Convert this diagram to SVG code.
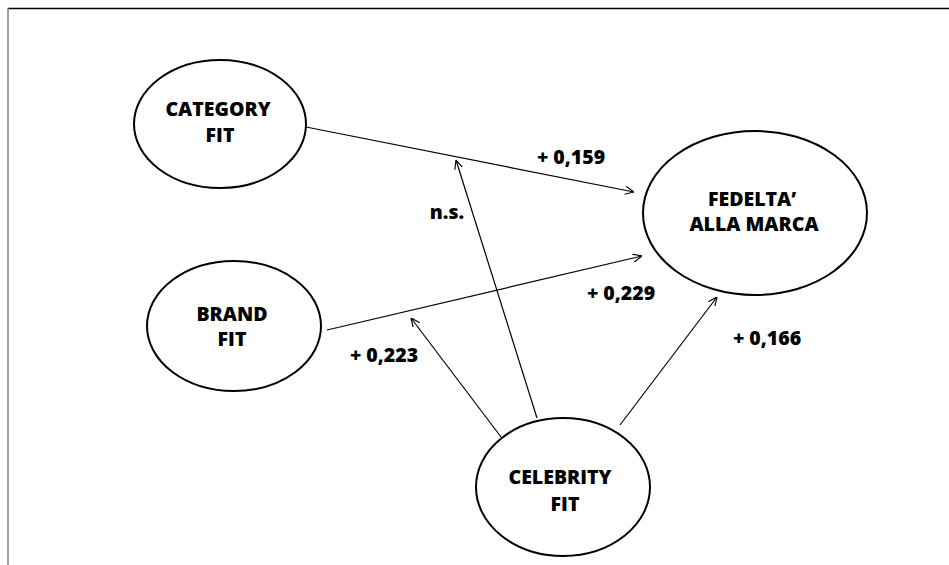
<svg xmlns="http://www.w3.org/2000/svg" width="949" height="565" viewBox="0 0 949 565">
<style>
.node ellipse{fill:#fff;stroke:#000;stroke-width:2}
text{font-family:"Open Sans","Liberation Sans",sans-serif;font-weight:800;font-size:19.5px;fill:#000;text-anchor:middle}
.conn line{stroke:#000;stroke-width:1.2;marker-end:url(#arr)}
</style>
<defs>
<marker id="arr" viewBox="0 0 10 10" refX="10" refY="5" markerWidth="9" markerHeight="9" markerUnits="userSpaceOnUse" orient="auto">
<path d="M0,0.5 L10,5 L0,9.5" fill="none" stroke="#000" stroke-width="1.3"/>
</marker>
</defs>
<rect width="949" height="565" fill="#fff"/>
<line x1="8" y1="8.5" x2="949" y2="8.5" stroke="#000" stroke-width="1.5"/>
<line x1="8" y1="8" x2="8" y2="565" stroke="#808080" stroke-width="1.5"/>
<g id="connectors" class="conn">
<line x1="306" y1="127" x2="634" y2="192"/>
<line x1="327" y1="330" x2="642" y2="256"/>
<line x1="537" y1="418" x2="456" y2="160"/>
<line x1="501" y1="437" x2="411" y2="318"/>
<line x1="620" y1="425" x2="717" y2="297"/>
</g>
<g id="category" class="node">
<ellipse cx="220" cy="124" rx="86" ry="64"/>
<text x="218" y="116">CATEGORY</text>
<text x="220" y="142">FIT</text>
</g>
<g id="brand" class="node">
<ellipse cx="234" cy="326" rx="87" ry="65"/>
<text x="232" y="321">BRAND</text>
<text x="232" y="346">FIT</text>
</g>
<g id="fedelta" class="node">
<ellipse cx="755" cy="213" rx="112" ry="82"/>
<text x="752" y="206">FEDELTA’</text>
<text x="754" y="231">ALLA MARCA</text>
</g>
<g id="celebrity" class="node">
<ellipse cx="563" cy="487" rx="87" ry="69"/>
<text x="560" y="484">CELEBRITY</text>
<text x="565" y="511">FIT</text>
</g>
<g id="labels">
<text x="571" y="164">+ 0,159</text>
<text x="447" y="219">n.s.</text>
<text x="621" y="300">+ 0,229</text>
<text x="384" y="362">+ 0,223</text>
<text x="767" y="345">+ 0,166</text>
</g>
</svg>
